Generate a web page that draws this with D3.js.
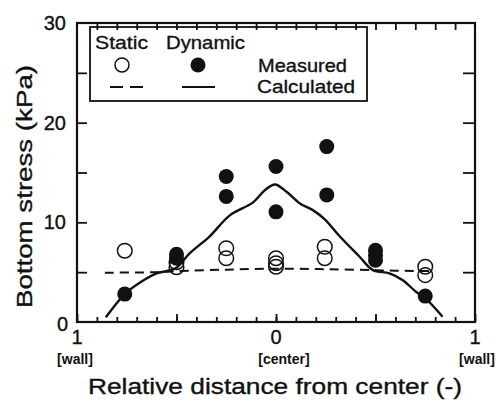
<!DOCTYPE html>
<html><head><meta charset="utf-8">
<script src="https://cdn.jsdelivr.net/npm/d3@7"></script>
<style>body{margin:0;background:#fff}svg{display:block}text{font-family:"Liberation Sans",Arial,sans-serif;fill:#111;stroke:#111;stroke-width:0.35}</style>
</head><body><svg id="c" width="496" height="403"></svg>
<script>
// Data
const staticX = [-0.76, -0.5, -0.5, -0.25, -0.25, 0, 0, 0, 0.245, 0.245, 0.75, 0.75];
const staticY = [7.15, 6.0, 5.5, 7.4, 6.4, 6.4, 5.9, 5.55, 7.55, 6.4, 5.55, 4.7];
const dynamicX = [-0.76, -0.5, -0.5, -0.25, -0.25, 0, 0, 0.255, 0.255, 0.5, 0.5, 0.5, 0.75];
const dynamicY = [2.8, 6.8, 6.4, 14.6, 12.6, 15.6, 11.05, 17.6, 12.75, 7.2, 6.7, 6.2, 2.6];
const calcStaticX = [-0.86, -0.6, -0.5, -0.25, 0, 0.25, 0.5, 0.6, 0.8];
const calcStaticY = [4.95, 5.0, 5.1, 5.25, 5.35, 5.3, 5.2, 5.15, 5.1];
const calcDynamicX = [-0.855, -0.76, -0.685, -0.6, -0.543, -0.5, -0.433, -0.333, -0.232, -0.115, -0.055, -0.005, 0.053, 0.12, 0.187, 0.245, 0.32, 0.42, 0.487, 0.57, 0.637, 0.703, 0.75, 0.837];
const calcDynamicY = [0.47, 2.8, 3.94, 4.88, 5.14, 5.45, 6.9, 8.6, 10.7, 12.0, 13.24, 13.8, 13.07, 11.9, 11.2, 10.3, 8.6, 6.55, 5.2, 4.88, 4.2, 3.04, 2.4, 0.53];
const xTickValues = [-1, 0, 1];
const xTickLabels = ["1", "0", "1"];
const xSubLabels = ["[wall]", "[center]", "[wall]"];
const yTickValues = [0, 10, 20, 30];

const svg = d3.select("#c");
const x = d3.scaleLinear().domain([-1, 1]).range([77, 475]);
const y = d3.scaleLinear().domain([0, 30]).range([322, 23]);

// Axes (inward ticks)
const minorX = d3.range(-9, 10).map(i => i / 10);
const majorX = [-1, -0.5, 0, 0.5, 1];
function styleAx(g){ g.select(".domain").remove(); g.selectAll("line").attr("stroke","#111").attr("stroke-width",1.8); g.selectAll("text").remove(); }
svg.append("g").attr("transform",`translate(0,${y(0)})`).call(d3.axisBottom(x).tickValues(minorX).tickSizeInner(-5).tickSizeOuter(0)).call(styleAx);
svg.append("g").attr("transform",`translate(0,${y(0)})`).call(d3.axisBottom(x).tickValues(majorX).tickSizeInner(-8).tickSizeOuter(0)).call(styleAx);
svg.append("g").attr("transform",`translate(0,${y(30)})`).call(d3.axisTop(x).tickValues(minorX).tickSizeInner(-7).tickSizeOuter(0)).call(styleAx);
const yt = [5, 10, 15, 20, 25];
svg.append("g").attr("transform",`translate(${x(-1)},0)`).call(d3.axisLeft(y).tickValues(yt).tickSizeInner(-10).tickSizeOuter(0)).call(styleAx);
svg.append("g").attr("transform",`translate(${x(1)},0)`).call(d3.axisRight(y).tickValues(yt).tickSizeInner(-12).tickSizeOuter(0)).call(styleAx);
svg.append("rect").attr("x",x(-1)).attr("y",y(30)).attr("width",x(1)-x(-1)).attr("height",y(0)-y(30))
  .attr("fill","none").attr("stroke","#111").attr("stroke-width",2.2);

// tick labels
svg.selectAll(".yl").data(yTickValues).enter().append("text")
  .attr("x", d => d === 0 ? x(-1) - 9 : x(-1) - 11).attr("y", d => d === 0 ? y(d) + 9 : y(d) + 7).attr("text-anchor","end")
  .attr("font-size", 20).text(d => d);
svg.selectAll(".xl").data(xTickValues).enter().append("text")
  .attr("x", d => x(d)).attr("y", 344).attr("text-anchor","middle").attr("font-size",20)
  .text((d,i) => xTickLabels[i]);
svg.selectAll(".xs").data(xTickValues).enter().append("text")
  .attr("x", d => x(d) + (d === -1 ? -2 : d === 1 ? 2 : 8)).attr("y", 364).attr("text-anchor","middle")
  .attr("font-size",14).attr("font-weight","bold").style("stroke-width",0).text((d,i) => xSubLabels[i]);
svg.append("text").attr("x", 88).attr("y", 394).attr("font-size",22)
  .attr("textLength",374).attr("lengthAdjust","spacingAndGlyphs")
  .text("Relative distance from center (-)");
svg.append("text").attr("transform","translate(32,308) rotate(-90)").attr("font-size",22)
  .attr("textLength",243).attr("lengthAdjust","spacingAndGlyphs")
  .text("Bottom stress (kPa)");

// lines
const line = d3.line().x(d => x(d[0])).y(d => y(d[1])).curve(d3.curveCatmullRom.alpha(0.5));
svg.append("path").datum(calcStaticX.map((v,i)=>[v,calcStaticY[i]])).attr("d", line)
  .attr("fill","none").attr("stroke","#111").attr("stroke-width",2).attr("stroke-dasharray","9,6");
svg.append("path").datum(calcDynamicX.map((v,i)=>[v,calcDynamicY[i]])).attr("d", line)
  .attr("fill","none").attr("stroke","#111").attr("stroke-width",2.4);

// points
svg.selectAll(".dp").data(dynamicX).enter().append("circle")
  .attr("cx", d => x(d)).attr("cy", (d,i) => y(dynamicY[i])).attr("r", 7.5).attr("fill","#111");
svg.selectAll(".sp").data(staticX).enter().append("circle")
  .attr("cx", d => x(d)).attr("cy", (d,i) => y(staticY[i])).attr("r", 7.3)
  .attr("fill","none").attr("stroke","#111").attr("stroke-width",1.5);

// legend
const lg = svg.append("g");
lg.append("rect").attr("x",90).attr("y",27).attr("width",277).attr("height",74)
  .attr("fill","none").attr("stroke","#111").attr("stroke-width",1.8);
function lt(t, xx, yy, w){ lg.append("text").attr("x",xx).attr("y",yy).attr("font-size",19).attr("textLength",w).attr("lengthAdjust","spacingAndGlyphs").text(t); }
lt("Static", 95, 49, 53);
lt("Dynamic", 166, 49, 79);
lt("Measured", 258, 72, 89);
lt("Calculated", 257, 93, 98);
lg.append("circle").attr("cx",122).attr("cy",65).attr("r",7).attr("fill","none").attr("stroke","#111").attr("stroke-width",1.5);
lg.append("circle").attr("cx",198).attr("cy",65).attr("r",7.5).attr("fill","#111");
lg.append("line").attr("x1",110).attr("x2",143).attr("y1",87).attr("y2",87).attr("stroke","#111").attr("stroke-width",2).attr("stroke-dasharray","13,7");
lg.append("line").attr("x1",182).attr("x2",215).attr("y1",87).attr("y2",87).attr("stroke","#111").attr("stroke-width",2);
</script></body></html>
